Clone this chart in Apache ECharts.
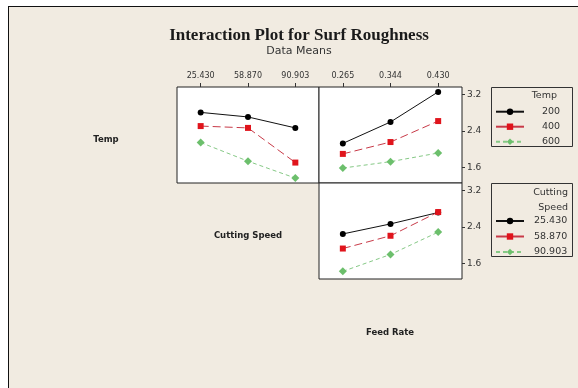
<!DOCTYPE html>
<html>
<head>
<meta charset="utf-8">
<script src="https://cdn.jsdelivr.net/npm/echarts@6/dist/echarts.min.js"></script>
<style>
  html, body { margin: 0; padding: 0; background: #fff; }
  #wrap { position: relative; width: 578px; height: 388px; overflow: hidden; background: #fff; }
  #frame { position: absolute; left: 8px; top: 6px; width: 700px; height: 500px; background: #F1EBE1; border: 1px solid #111; box-sizing: border-box; }
  #chart { position: absolute; left: 0; top: 0; width: 578px; height: 388px; }
</style>
</head>
<body>
<div id="wrap"><div id="frame"></div><div id="chart"></div></div>
<script>
const cuttingSpeedLabels = ['25.430', '58.870', '90.903'];
const feedRateLabels = ['0.265', '0.344', '0.430'];
const tempLevels = ['200', '400', '600'];
const yTickValues = [1.6, 2.4, 3.2];

// Temp lines across Cutting Speed
const temp200VsSpeed = [2.81, 2.71, 2.47];
const temp400VsSpeed = [2.51, 2.47, 1.71];
const temp600VsSpeed = [2.15, 1.74, 1.37];
// Temp lines across Feed Rate
const temp200VsFeed = [2.13, 2.60, 3.26];
const temp400VsFeed = [1.90, 2.16, 2.62];
const temp600VsFeed = [1.59, 1.73, 1.92];
// Cutting Speed lines across Feed Rate
const speed25VsFeed = [2.25, 2.47, 2.72];
const speed58VsFeed = [1.93, 2.21, 2.73];
const speed90VsFeed = [1.43, 1.80, 2.29];

const Y_MIN = 1.262, Y_MAX = 3.367;
const FONT = 'DejaVu Sans';

const styles = [
  { symbol: 'circle', symbolSize: 6, itemStyle: { color: '#000' }, lineStyle: { color: '#111', width: 1, type: 'solid' } },
  { symbol: 'rect', symbolSize: 6, itemStyle: { color: '#E0141C' }, lineStyle: { color: '#C83A48', width: 1, type: [8, 4] } },
  { symbol: 'diamond', symbolSize: 8, itemStyle: { color: '#6CBF6C' }, lineStyle: { color: '#86C986', width: 1, type: [4, 3] } }
];

function mk(name, data, idx, styleIdx) {
  const s = styles[styleIdx];
  return {
    type: 'line', name: name, data: data,
    xAxisIndex: idx, yAxisIndex: idx,
    symbol: s.symbol, symbolSize: s.symbolSize,
    itemStyle: s.itemStyle, lineStyle: s.lineStyle,
    animation: false, silent: true
  };
}

const gridBase = { show: true, backgroundColor: '#fff', borderColor: '#222', borderWidth: 1 };

function topXAxis(grid, labels) {
  return {
    type: 'category', gridIndex: grid, data: labels, position: 'top', boundaryGap: true,
    axisLine: { show: false },
    axisTick: { show: true, alignWithLabel: true, length: 4, lineStyle: { color: '#333' } },
    axisLabel: { fontSize: 8, color: '#333', margin: 7, fontFamily: FONT },
    splitLine: { show: false }
  };
}
function rightYAxis(grid, showLabels) {
  return {
    type: 'value', gridIndex: grid, min: Y_MIN, max: Y_MAX, position: 'right',
    axisLine: { show: false },
    axisTick: { show: showLabels, length: 3, customValues: yTickValues, lineStyle: { color: '#333' } },
    axisLabel: { show: showLabels, customValues: yTickValues, fontSize: 9, color: '#333', margin: 5, fontFamily: FONT,
      formatter: v => Number(v).toFixed(1) },
    splitLine: { show: false }
  };
}

function legendItems(names) {
  return names.map((n, i) => i === 1 ? { name: n, lineStyle: { type: 'solid' } } : { name: n });
}

const chart = echarts.init(document.getElementById('chart'), null, { renderer: 'canvas' });
chart.setOption({
  backgroundColor: 'transparent',
  animation: false,
  title: {
    text: 'Interaction Plot for Surf Roughness',
    subtext: 'Data Means',
    left: 294, top: 22, textAlign: 'center', itemGap: 2,
    textStyle: { fontFamily: 'Liberation Serif', fontWeight: 'bold', fontSize: 17, color: '#1a1a1a' },
    subtextStyle: { fontFamily: FONT, fontSize: 11, color: '#333' }
  },
  grid: [
    Object.assign({ left: 177, top: 87, width: 142, height: 96 }, gridBase),
    Object.assign({ left: 319, top: 87, width: 143, height: 96 }, gridBase),
    Object.assign({ left: 319, top: 183, width: 143, height: 96 }, gridBase)
  ],
  xAxis: [
    topXAxis(0, cuttingSpeedLabels),
    topXAxis(1, feedRateLabels),
    { type: 'category', gridIndex: 2, data: feedRateLabels, boundaryGap: true,
      axisLine: { show: false }, axisTick: { show: false }, axisLabel: { show: false }, splitLine: { show: false } }
  ],
  yAxis: [ rightYAxis(0, false), rightYAxis(1, true), rightYAxis(2, true) ],
  legend: [
    { data: legendItems(tempLevels), orient: 'vertical', left: 495, top: 106.7, padding: 0,
      itemWidth: 28, itemHeight: 8, itemGap: 5, selectedMode: false,
      textStyle: { fontFamily: FONT, fontSize: 9.5, color: '#333', padding: [0, 0, 0, 13] } },
    { data: legendItems(cuttingSpeedLabels), orient: 'vertical', left: 495, top: 216, padding: 0,
      itemWidth: 28, itemHeight: 8, itemGap: 5.5, selectedMode: false,
      textStyle: { fontFamily: FONT, fontSize: 9.5, color: '#333', padding: [0, 0, 0, 5] } }
  ],
  graphic: [
    { type: 'rect', shape: { x: 491.5, y: 87.5, width: 81, height: 59 }, style: { fill: 'none', stroke: '#333', lineWidth: 1 }, silent: true },
    { type: 'rect', shape: { x: 491.5, y: 183.5, width: 81, height: 73 }, style: { fill: 'none', stroke: '#333', lineWidth: 1 }, silent: true },
    { type: 'text', x: 557, y: 96, style: { text: 'Temp', align: 'right', verticalAlign: 'middle', font: '9.5px "DejaVu Sans"', fill: '#333' }, silent: true },
    { type: 'text', x: 568, y: 193, style: { text: 'Cutting', align: 'right', verticalAlign: 'middle', font: '9.5px "DejaVu Sans"', fill: '#333' }, silent: true },
    { type: 'text', x: 568, y: 207.5, style: { text: 'Speed', align: 'right', verticalAlign: 'middle', font: '9.5px "DejaVu Sans"', fill: '#333' }, silent: true },
    { type: 'text', x: 106, y: 140, style: { text: 'Temp', align: 'center', verticalAlign: 'middle', font: 'bold 8.5px "DejaVu Sans"', fill: '#222' }, silent: true },
    { type: 'text', x: 248, y: 236, style: { text: 'Cutting Speed', align: 'center', verticalAlign: 'middle', font: 'bold 8.5px "DejaVu Sans"', fill: '#222' }, silent: true },
    { type: 'text', x: 390, y: 333, style: { text: 'Feed Rate', align: 'center', verticalAlign: 'middle', font: 'bold 8.5px "DejaVu Sans"', fill: '#222' }, silent: true }
  ],
  series: [
    mk(tempLevels[0], temp200VsSpeed, 0, 0),
    mk(tempLevels[1], temp400VsSpeed, 0, 1),
    mk(tempLevels[2], temp600VsSpeed, 0, 2),
    mk(tempLevels[0], temp200VsFeed, 1, 0),
    mk(tempLevels[1], temp400VsFeed, 1, 1),
    mk(tempLevels[2], temp600VsFeed, 1, 2),
    mk(cuttingSpeedLabels[0], speed25VsFeed, 2, 0),
    mk(cuttingSpeedLabels[1], speed58VsFeed, 2, 1),
    mk(cuttingSpeedLabels[2], speed90VsFeed, 2, 2)
  ]
});
</script>
</body>
</html>
